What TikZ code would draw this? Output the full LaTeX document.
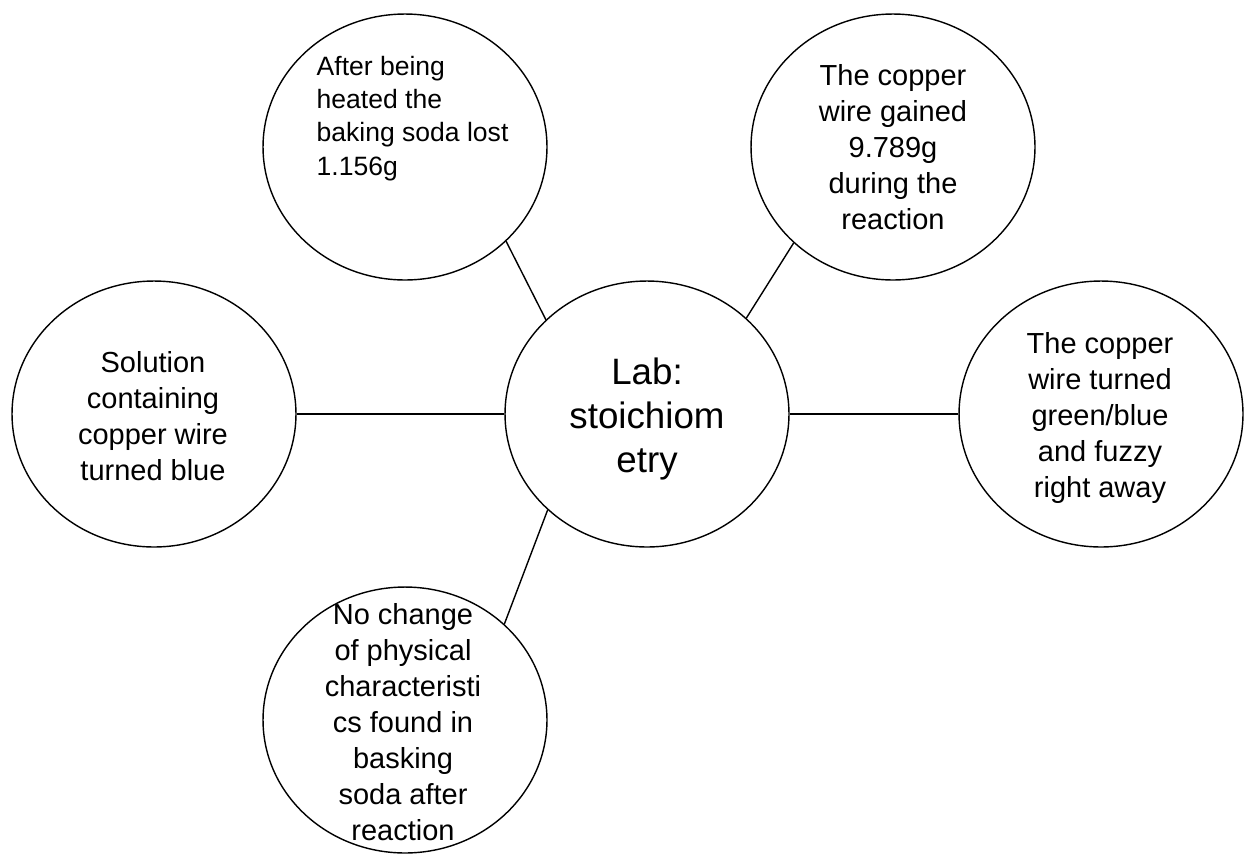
\documentclass[tikz,border=0pt]{standalone}
\usepackage{fontspec}
\setmainfont{Liberation Sans}
\usetikzlibrary{shapes.geometric}

\begin{document}
\begin{tikzpicture}[x=0.02cm, y=-0.02cm, thick,
  bubble/.style = {draw, ellipse, minimum width=5.68cm, minimum height=5.32cm, inner sep=0pt},
  txt/.style = {inner sep=0pt, align=center, anchor=north, font=\fontsize{16.5}{20.5}\selectfont}]
\useasboundingbox (0,0) rectangle (1244,853);
\node[bubble] (lab) at (647,414) {};
\node[bubble] (soda) at (405,147) {};
\node[bubble] (gain) at (893,147) {};
\node[bubble] (blue) at (154,414) {};
\node[bubble] (green) at (1101,414) {};
\node[bubble] (nochg) at (405,720) {};
\node[txt, font=\fontsize{20.9}{25}\selectfont] (labT) at (647,357) {Lab:\\stoichiom\\etry};
\node[txt, align=left, anchor=north west, font=\fontsize{15.1}{18.8}\selectfont] (sodaT) at (316,56) {After being\\heated the\\baking soda lost\\1.156g};
\node[txt] (gainT) at (893,64) {The copper\\wire gained\\9.789g\\during the\\reaction};
\node[txt] (blueT) at (153,351) {Solution\\containing\\copper wire\\turned blue};
\node[txt] (greenT) at (1100,332) {The copper\\wire turned\\green/blue\\and fuzzy\\right away};
\node[txt] (nochgT) at (403,603) {No change\\of physical\\characteristi\\cs found in\\basking\\soda after\\reaction};
\draw (lab.west) -- (blue.east);
\draw (lab.east) -- (green.west);
\draw (lab.137) -- (soda.-43.5);
\draw (lab.44) -- (gain.-136.5);
\draw (lab.-136.4) -- (nochg.44);
\end{tikzpicture}
\end{document}
